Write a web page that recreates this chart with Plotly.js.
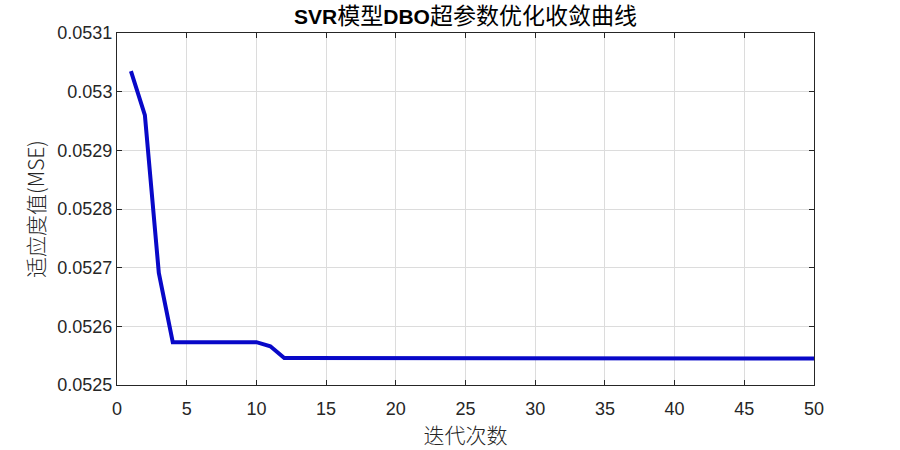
<!DOCTYPE html>
<html><head><meta charset="utf-8">
<script src="https://cdn.plot.ly/plotly-3.0.1.min.js"></script>
<style>body{margin:0;background:#fff}#chart{width:900px;height:450px}</style>
</head><body><div id="chart"></div>
<script>
const iterations = [];
for (let i = 1; i <= 50; i++) iterations.push(i);
const fitness = [
  0.053035, 0.052960, 0.052691, 0.052573, 0.052573, 0.052573, 0.052573, 0.052573, 0.052573, 0.052573,
  0.052566, 0.052546, 0.052546, 0.052546, 0.052546, 0.052546, 0.052546, 0.052546, 0.052546, 0.052546,
  0.052546, 0.052546, 0.052546, 0.052546, 0.052546, 0.052546, 0.052546, 0.052546, 0.052546, 0.052546,
  0.052546, 0.0525455, 0.0525455, 0.0525455, 0.0525455, 0.0525455, 0.0525455, 0.0525455, 0.0525455, 0.0525455,
  0.0525455, 0.0525455, 0.0525455, 0.0525455, 0.0525455, 0.0525455, 0.052545, 0.052545, 0.052545, 0.052545
];
const xTicks = [0, 5, 10, 15, 20, 25, 30, 35, 40, 45, 50];
const yTickVals = [0.0525, 0.0526, 0.0527, 0.0528, 0.0529, 0.053, 0.0531];
const yTickText = ['0.0525', '0.0526', '0.0527', '0.0528', '0.0529', '0.053', '0.0531'];

const axisFont = {family: 'Liberation Sans, Arial, sans-serif', size: 18, color: '#262626'};
const cjk = 'Noto Sans CJK SC, sans-serif';
const cj = s => '<span style="font-weight:normal;font-size:23px">' + s + '</span>';
const titleText = 'SVR' + cj('模型') + 'DBO' + cj('超参数优化收敛曲线');

Plotly.newPlot('chart', [{
  x: iterations, y: fitness, type: 'scatter', mode: 'lines',
  line: {color: '#0808c8', width: 4}, hoverinfo: 'skip'
}], {
  width: 900, height: 450,
  margin: {l: 117, r: 86, t: 33, b: 65},
  paper_bgcolor: '#fff', plot_bgcolor: '#fff',
  showlegend: false,
  title: {text: titleText, x: 0.5, xref: 'paper', y: 0.962, yanchor: 'middle',
          font: {family: 'Liberation Sans, ' + cjk, size: 21, color: '#000', weight: 'bold'}},
  xaxis: {range: [0, 50], tickvals: xTicks, ticks: 'inside', ticklen: 5, tickcolor: '#262626',
          showline: true, linecolor: '#262626', linewidth: 1, mirror: 'ticks', ticklabelstandoff: 7,
          showgrid: true, gridcolor: '#dcdcdc', zeroline: false, tickfont: axisFont,
          title: {text: '迭代次数', font: {family: cjk, size: 21, color: '#262626', weight: 300}, standoff: 8}},
  yaxis: {range: [0.0525, 0.0531], tickvals: yTickVals, ticktext: yTickText, ticks: 'inside', ticklen: 5,
          tickcolor: '#262626', showline: true, linecolor: '#262626', linewidth: 1, mirror: 'ticks',
          showgrid: true, gridcolor: '#dcdcdc', zeroline: false, tickfont: axisFont,
          title: {text: '适应度值(MSE)', font: {family: cjk, size: 21, color: '#262626', weight: 300}, standoff: 6}}
}, {staticPlot: true});
</script></body></html>
